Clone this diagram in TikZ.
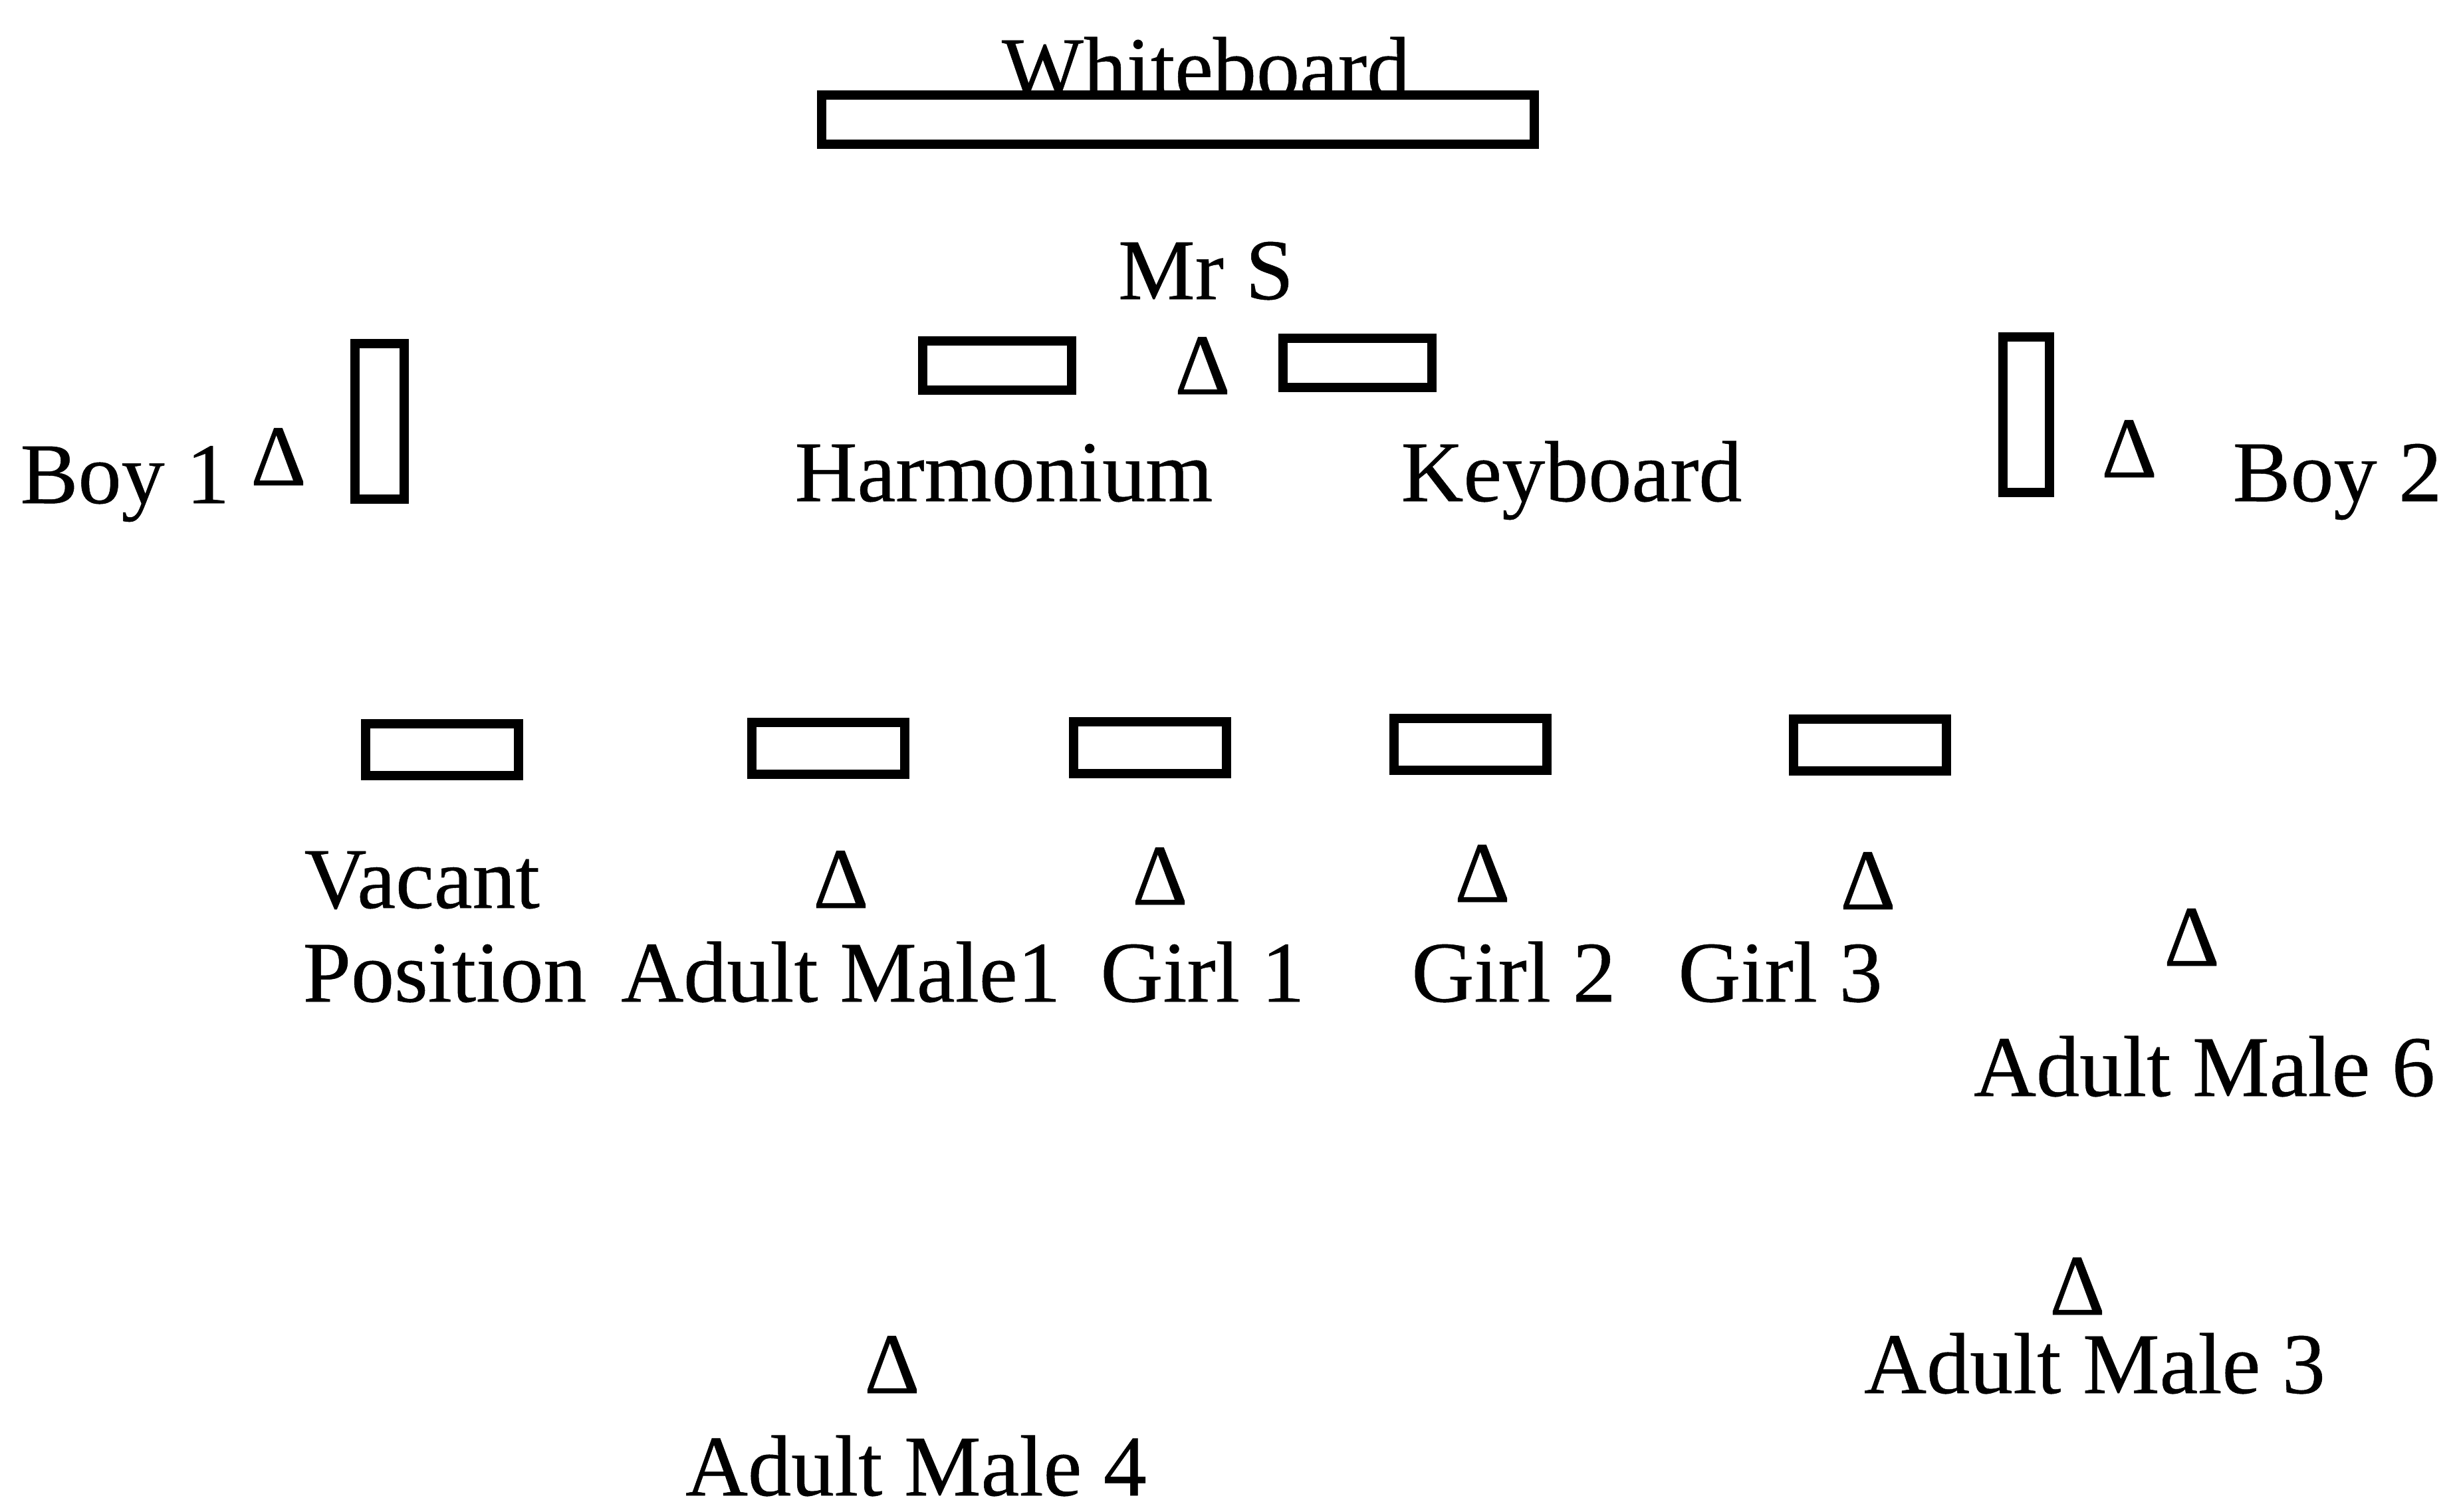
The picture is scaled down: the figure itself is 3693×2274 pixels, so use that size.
\documentclass[tikz,border=0pt]{standalone}
\usepackage{fontspec}
\newfontfamily\planfont[FakeBold=0.4]{Liberation Serif}
\tikzset{
  desk/.style={draw,line width=4pt,minimum width=2.3cm,minimum height=0.78cm,inner sep=0pt},
  sidedesk/.style={desk,minimum width=0.74cm,minimum height=2.33cm},
  person/.style={anchor=base,inner sep=0pt},
  lbl/.style={anchor=base,inner sep=0pt}
}
\begin{document}
\begin{tikzpicture}[x=0.01cm,y=-0.01cm,font=\planfont\fontsize{37}{44}\selectfont]
\useasboundingbox (0,0) rectangle (3693,2274);
% front of the room
\node[desk,minimum width=10.72cm,minimum height=0.74cm] (board) at (1772,180) {};
\node[lbl] (boardlbl) at (1814,146) {Whiteboard};
\node[lbl] (mrslbl) at (1814,450) {Mr S};
\node[person] (mrs) at (1809,593) {Δ};
\node[desk,minimum width=2.24cm,minimum height=0.74cm] (harm) at (1500,550) {};
\node[desk,minimum width=2.24cm,minimum height=0.74cm] (keyb) at (2042,546) {};
\node[lbl] (harmlbl) at (1510,754) {Harmonium};
\node[lbl] (keyblbl) at (2364,754) {Keyboard};
% side desks
\node[sidedesk] (desk-b1) at (571,634) {};
\node[person] (boy1) at (419,730) {Δ};
\node[lbl] (boy1lbl) at (188,757) {Boy 1};
\node[sidedesk,minimum width=0.7cm] (desk-b2) at (3048,624) {};
\node[person] (boy2) at (3203,718) {Δ};
\node[lbl] (boy2lbl) at (3516,754) {Boy 2};
% second row
\foreach \n/\x/\y in {vac/665/1128,am1/1246/1126,g1/1730/1125,g2/2212/1120,g3/2813/1121}
  \node[desk] (desk-\n) at (\x,\y) {};
\node[person] (am1) at (1265,1366) {Δ};
\node[person] (g1) at (1745,1361) {Δ};
\node[person] (g2) at (2230,1357) {Δ};
\node[person] (g3) at (2810,1368) {Δ};
\node[lbl,anchor=base west] (vaclbl) at (457,1366) {Vacant};
\node[lbl,anchor=base west] (vaclbl2) at (455,1507) {Position};
\node[lbl] (am1lbl) at (1265,1507) {Adult Male1};
\node[lbl] (g1lbl) at (1809,1507) {Girl 1};
\node[lbl] (g2lbl) at (2277,1507) {Girl 2};
\node[lbl] (g3lbl) at (2678,1507) {Girl 3};
% back of the room
\node[person] (am6) at (3297,1453) {Δ};
\node[lbl] (am6lbl) at (3316,1649) {Adult Male 6};
\node[person] (am3) at (3125,1978) {Δ};
\node[lbl] (am3lbl) at (3151,2096) {Adult Male 3};
\node[person] (am4) at (1342,2096) {Δ};
\node[lbl] (am4lbl) at (1378,2250) {Adult Male 4};
\end{tikzpicture}
\end{document}
